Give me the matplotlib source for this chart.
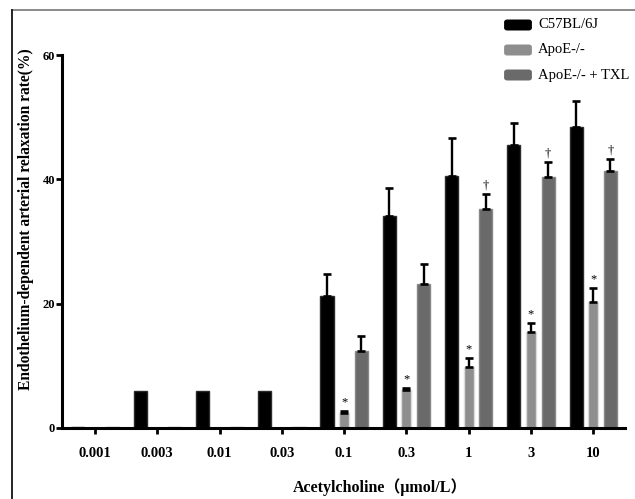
import matplotlib.pyplot as plt
from matplotlib.patches import FancyBboxPatch
from matplotlib.lines import Line2D
import numpy as np

# concentrations (umol/L)
doses = ["0.001", "0.003", "0.01", "0.03", "0.1", "0.3", "1", "3", "10"]
groups = ["C57BL/6J", "ApoE-/-", "ApoE-/- + TXL"]

# relaxation rate (%) and upper error (SEM)
c57_mean = [0.2, 6.0, 6.0, 6.0, 21.2, 34.1, 40.5, 45.5, 48.4]
c57_err = [0, 0, 0, 0, 3.5, 4.5, 6.1, 3.6, 4.2]
apoe_mean = [0, 0, 0, 0, 2.4, 6.1, 9.8, 15.4, 20.3]
apoe_err = [0, 0, 0, 0, 0.3, 0.3, 1.5, 1.5, 2.3]
txl_mean = [0.2, 0.2, 0.2, 0.2, 12.4, 23.1, 35.3, 40.3, 41.3]
txl_err = [0, 0, 0, 0, 2.4, 3.3, 2.3, 2.5, 1.9]

# significance marks
apoe_marks = ["", "", "", "", "*", "*", "*", "*", "*"]
txl_marks = ["", "", "", "", "", "", "\u2020", "\u2020", "\u2020"]

colors = ["#000000", "#8e8e8e", "#6a6a6a"]
edges = ["#2a2a2a", "#dcdcdc", "#888888"]

serif = ["Liberation Serif", "DejaVu Serif"]
plt.rcParams["font.family"] = serif

fig = plt.figure(figsize=(6.35, 4.99), dpi=100)
ax = fig.add_axes([62 / 635, 1 - 428 / 499, (625 - 62) / 635, (428 - 55) / 499])

x = np.arange(len(doses))
off = 0.275
series = [(c57_mean, c57_err, -off, 0.21),
          (apoe_mean, apoe_err, 0.0, 0.16),
          (txl_mean, txl_err, off, 0.21)]

for k, (m, e, dx, w) in enumerate(series):
    ax.bar(x + dx, m, width=w, color=colors[k], edgecolor=edges[k],
           linewidth=1.0, zorder=2)
    has = np.array(e) > 0
    ax.errorbar(x[has] + dx, np.array(m)[has],
                yerr=[np.zeros(has.sum()), np.array(e)[has]],
                fmt="none", ecolor="black", elinewidth=1.7,
                capsize=3, capthick=1.9, zorder=3)

for i in range(len(doses)):
    if apoe_marks[i]:
        ax.text(x[i], apoe_mean[i] + apoe_err[i] + 0.4, apoe_marks[i],
                ha="center", va="bottom", fontsize=9)
    if txl_marks[i]:
        ax.text(x[i] + off, txl_mean[i] + txl_err[i] + 0.4, txl_marks[i],
                ha="center", va="bottom", fontsize=9)

ax.set_xlim(-0.53, 8.51)
ax.set_ylim(0, 60)
ax.set_yticks([0, 20, 40, 60])
ax.set_xticks(x)
ax.set_xticklabels(doses, fontsize=10.5, fontweight="bold")
for t in ax.get_yticklabels():
    t.set_fontsize(9)
    t.set_fontweight("bold")
ax.tick_params(axis="x", direction="out", length=4, width=2, pad=10)
ax.tick_params(axis="y", direction="out", length=4, width=2, pad=1)
for s in ["top", "right"]:
    ax.spines[s].set_visible(False)
for s in ["left", "bottom"]:
    ax.spines[s].set_linewidth(2.2)

ax.set_ylabel("Endothelium-dependent arterial relaxation rate(%)",
              fontsize=11.2, fontweight="bold")
ax.yaxis.set_label_coords(-0.05, 0.56)
fig.text(380 / 635, 1 - 487 / 499, "Acetylcholine（μmol/L）",
         ha="center", va="center", fontsize=11.5, fontweight="bold",
         family=["Liberation Serif", "Noto Sans CJK SC"])

# legend with rounded swatches
for k, g in enumerate(groups):
    yc = 1 - (25 + 25 * k) / 499
    fig.patches.append(FancyBboxPatch((506 / 635, yc - 4 / 499), 24 / 635, 8 / 499,
                                      boxstyle="round,pad=0.003,rounding_size=0.005",
                                      transform=fig.transFigure, facecolor=colors[k],
                                      edgecolor="none"))
    fig.text(538 / 635, yc, g, ha="left", va="center", fontsize=10.5)

# outer frame (top and left)
fig.add_artist(Line2D([12 / 635, 1], [1 - 10 / 499, 1 - 10 / 499],
                      transform=fig.transFigure, color="#777777", lw=1.2))
fig.add_artist(Line2D([12 / 635, 12 / 635], [0, 1 - 10 / 499],
                      transform=fig.transFigure, color="black", lw=1.2))

fig.savefig("out.png", dpi=100)
